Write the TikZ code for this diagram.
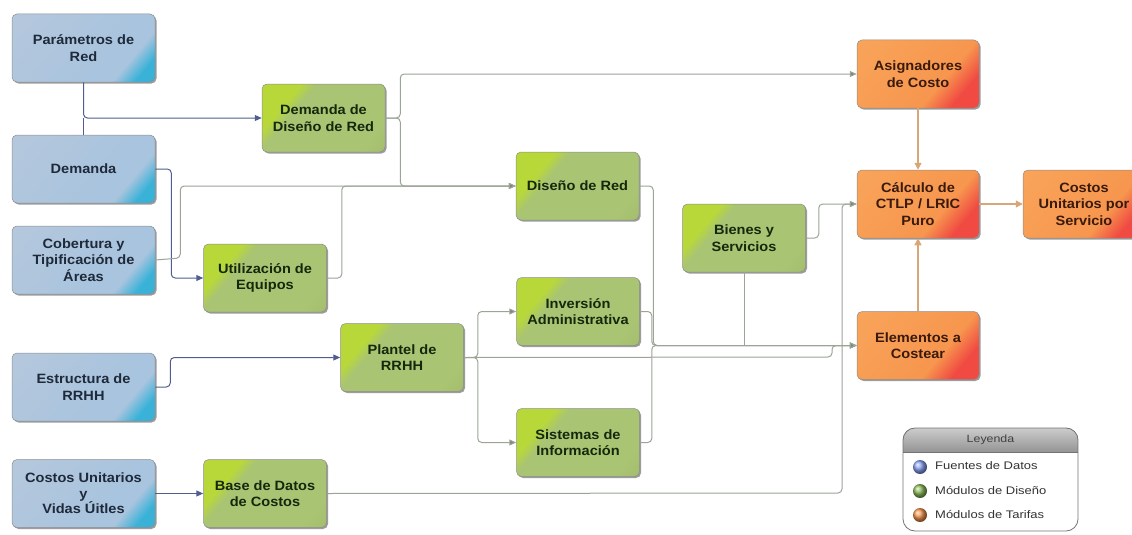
\documentclass[tikz,border=0pt]{standalone}
\usepackage{fontspec}
\setmainfont{Liberation Sans}[FakeStretch=1.08]
\newfontfamily\legfont{Liberation Sans}[FakeStretch=1.18]
\usetikzlibrary{shadows,arrows.meta}
\definecolor{bA}{HTML}{B9C9DC}
\definecolor{bB}{HTML}{A9C4DE}
\definecolor{bC}{HTML}{3AB2D8}
\definecolor{gA}{HTML}{B8D83A}
\definecolor{gB}{HTML}{A9C473}
\definecolor{gC}{HTML}{9CB565}
\definecolor{oA}{HTML}{F9A95E}
\definecolor{oB}{HTML}{F7964E}
\definecolor{oC}{HTML}{F04A42}
\definecolor{linkblue}{HTML}{4F5E8E}
\definecolor{linkgray}{HTML}{9AA596}
\definecolor{linktan}{HTML}{D9A678}
\definecolor{txtblue}{HTML}{1E2A3A}
\definecolor{txtgreen}{HTML}{15280C}
\definecolor{txtorange}{HTML}{3A1A0C}
\pgfdeclarehorizontalshading{blueshade}{100bp}{color(0bp)=(bA); color(60bp)=(bB); color(70bp)=(bB); color(78bp)=(bC); color(100bp)=(bC)}
\pgfdeclarehorizontalshading{greenshade}{100bp}{color(0bp)=(gA); color(30bp)=(gA); color(36bp)=(gB); color(75bp)=(gB); color(100bp)=(gC)}
\pgfdeclarehorizontalshading{orangeshade}{100bp}{color(0bp)=(oA); color(62bp)=(oB); color(74bp)=(oC); color(100bp)=(oC)}
\begin{document}
\begin{tikzpicture}[x=1pt,y=-1pt,
  box/.style={rounded corners=5pt, draw=black!45, line width=0.5pt,
    minimum width=123pt, minimum height=68pt, align=center, inner sep=2pt,
    font=\fontsize{13.5}{16.5}\selectfont\bfseries,
    drop shadow={shadow xshift=1.5pt, shadow yshift=-1.5pt, opacity=0.55, fill=black!70}},
  src/.style={box, minimum width=143pt, shading=blueshade, shading angle=-40, text=txtblue},
  des/.style={box, shading=greenshade, shading angle=-40, text=txtgreen},
  tar/.style={box, minimum width=122pt, shading=orangeshade, shading angle=-40, text=txtorange},
  blink/.style={draw=linkblue, line width=1pt, rounded corners=4pt},
  glink/.style={draw=linkgray, line width=1pt, rounded corners=4pt},
  tlink/.style={draw=linktan, line width=1.3pt},
  barr/.style={-{Triangle[length=7pt,width=6pt]}},
  garr/.style={-{Triangle[length=7pt,width=6pt,fill=linkgray!80!black]}},
  legtext/.style={font=\legfont\fontsize{11}{13}\selectfont, text=black!80, anchor=west, inner sep=0pt}
]
\useasboundingbox (0,0) rectangle (1132,535);

\coordinate (cP) at (832,357);
\coordinate (cB) at (842,493);

% sources
\node[src] (par) at (83.5,48) {Parámetros de\\Red};
\node[src] (dem) at (83.5,169) {Demanda};
\node[src] (cob) at (83.5,260) {Cobertura y\\Tipificación de\\Áreas};
\node[src] (est) at (83.5,387) {Estructura de\\RRHH};
\node[src, font=\fontsize{13.5}{15.5}\selectfont\bfseries] (cu) at (83.5,493.5) {Costos Unitarios\\y\\Vidas Úitles};

% design modules
\node[des] (ddr) at (323.5,118) {Demanda de\\Diseño de Red};
\node[des] (util) at (265,278) {Utilización de\\Equipos};
\node[des] (dred) at (577.5,186) {Diseño de Red};
\node[des] (bien) at (744,238) {Bienes y\\Servicios};
\node[des] (inv) at (578,311.5) {Inversión\\Administrativa};
\node[des] (plan) at (402,357.5) {Plantel de\\RRHH};
\node[des] (sis) at (578,442.5) {Sistemas de\\Información};
\node[des] (bdc) at (265,493.5) {Base de Datos\\de Costos};

% tariff modules
\node[tar] (asig) at (918,74) {Asignadores\\de Costo};
\node[tar] (calc) at (918,204) {Cálculo de\\CTLP / LRIC\\Puro};
\node[tar] (cus) at (1084,204) {Costos\\Unitarios por\\Servicio};
\node[tar] (elem) at (918,345.5) {Elementos a\\Costear};

% blue links
\draw[blink,barr] (par.south) |- (ddr.west);
\draw[blink] (dem.north) -- (dem.north |- ddr.west);
\draw[blink,barr] (dem.east) -- ++(16,0) |- (util.west);
\draw[blink,barr] (est.east) -- ++(15,0) |- (plan.west);
\draw[blink,barr] (cu.east) -- (bdc.west);

% gray links
\draw[glink,garr] (cob.east) -- ++(25,-2) |- (dred.west);
\draw[glink,garr] (util.east) -- ++(15,0) |- (dred.west);
\draw[glink,garr] (ddr.east) -- ++(15,0) |- (dred.west);
\draw[glink,garr] (ddr.east) -- ++(15,0) |- (asig.west);
\draw[glink,garr] (dred.east) -- ++(14,0) |- (elem.west);
\draw[glink,garr] (inv.east) -- ++(12,0) |- (elem.west);
\draw[glink,garr] (sis.east) -- ++(12,0) |- (elem.west);
\draw[glink] (bien.south) -- (bien.south |- elem.west);
\draw[glink,garr] (bien.east) -- ++(13,0) |- (calc.west);
\draw[glink,garr] (plan.east) -- (cP) |- (elem.west);
\draw[glink,garr] (plan.east) -- ++(14,0) |- (inv.west);
\draw[glink,garr] (plan.east) -- ++(14,0) |- (sis.west);
\draw[glink,garr] (bdc.east) -- (cB) |- (calc.west);

% tan links
\draw[tlink,-{Triangle[length=7pt,width=7pt]}] (asig.south) -- (calc.north);
\draw[tlink,-{Triangle[length=7pt,width=7pt]}] (elem.north) -- (calc.south);
\draw[tlink,-{Triangle[length=7pt,width=7pt]}] (calc.east) -- (cus.west);

% legend
\begin{scope}
  \clip[rounded corners=12pt] (903,428) rectangle (1078,531);
  \fill[white] (903,428) rectangle (1078,531);
  \fill[top color=black!20, bottom color=black!42] (903,428) rectangle (1078,452);
  \draw[black!55, line width=0.8pt] (903,452) -- (1078,452);
\end{scope}
\draw[black!55, line width=0.8pt, rounded corners=12pt] (903,428) rectangle (1078,531);
\node[font=\legfont\fontsize{10.5}{12}\selectfont, text=black!75] (legh) at (990.5,440) {Leyenda};
\shade[ball color=bC!40!blue!50!white] (920,467) circle (7);
\shade[ball color=gC!90!green] (920,491) circle (7);
\shade[ball color=oB] (920,515) circle (7);
\node[legtext] (l1) at (935,466) {Fuentes de Datos};
\node[legtext] (l2) at (935,490) {Módulos de Diseño};
\node[legtext] (l3) at (935,514) {Módulos de Tarifas};
\end{tikzpicture}
\end{document}
